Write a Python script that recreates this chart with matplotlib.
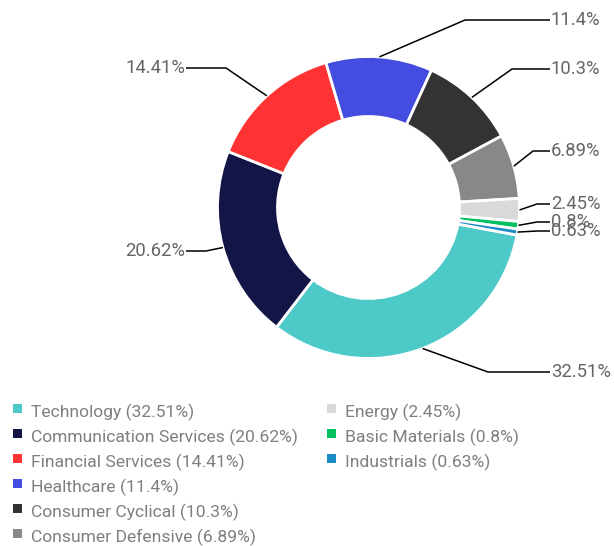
import matplotlib
matplotlib.use("Agg")
import matplotlib.pyplot as plt
import numpy as np
from matplotlib.patches import Rectangle

categories = ["Technology", "Communication Services", "Financial Services", "Healthcare",
              "Consumer Cyclical", "Consumer Defensive", "Energy", "Basic Materials", "Industrials"]
values = [32.51, 20.62, 14.41, 11.4, 10.3, 6.89, 2.45, 0.8, 0.63]
value_labels = ["32.51%", "20.62%", "14.41%", "11.4%", "10.3%", "6.89%", "2.45%", "0.8%", "0.63%"]
colors = ["#4DC9C8", "#141547", "#FF3333", "#444DE0", "#333333", "#888888", "#D9D9D9", "#00C060", "#1A8AC8"]

# layout (pixel coords, y measured from top)
W, H = 614, 546
cx, cy = 368.5, 207.5
r_out, r_in = 151, 91
label_y = [372, 251, 68, 20, 69, 151, 204, 222, 231]
elbow_x = [488, 206, 226, 465, 512, 533, 537, 537, 537]
side = ["r", "l", "l", "r", "r", "r", "r", "r", "r"]

FONT = "Roboto"
LABEL_COLOR = "#666666"
LEGEND_COLOR = "#7f7f7f"

def Y(y):
    return H - y

fig = plt.figure(figsize=(W / 100, H / 100), dpi=100)
ax = fig.add_axes([0, 0, 1, 1])
wedges, _ = ax.pie(values, colors=colors, startangle=-10.5, counterclock=False,
                   center=(cx, Y(cy)), radius=r_out,
                   wedgeprops=dict(width=r_out - r_in, edgecolor="white", linewidth=2))
ax.set_xlim(0, W)
ax.set_ylim(0, H)
ax.set_aspect("equal")
ax.axis("off")

for w, lab, ly, ex, sd in zip(wedges, value_labels, label_y, elbow_x, side):
    mid = np.deg2rad((w.theta1 + w.theta2) / 2)
    px = cx + r_out * np.cos(mid)
    py = Y(cy) + r_out * np.sin(mid)
    tx = 550 if sd == "r" else 186
    ax.plot([px, ex, tx], [py, Y(ly), Y(ly)], color="black", lw=1.1, solid_capstyle="butt")
    ax.text(tx + (1 if sd == "r" else -1), Y(ly), lab, ha="left" if sd == "r" else "right",
            va="center", fontsize=13.3, color=LABEL_COLOR, family=FONT)

# legend
rows_y = [412, 437, 462, 487, 512, 537]
col_x = [13, 327]
for i, (cat, val, col) in enumerate(zip(categories, values, colors)):
    c = 0 if i < 6 else 1
    r = i if i < 6 else i - 6
    x0 = col_x[c]
    y0 = rows_y[r]
    ax.add_patch(Rectangle((x0, Y(y0) - 1), 9, 9, color=col, lw=0))
    ax.text(x0 + 18, Y(y0), f"{cat} ({val}%)", ha="left", va="center",
            fontsize=12.6, color=LEGEND_COLOR, family=FONT)

fig.savefig("out.png", dpi=100)
